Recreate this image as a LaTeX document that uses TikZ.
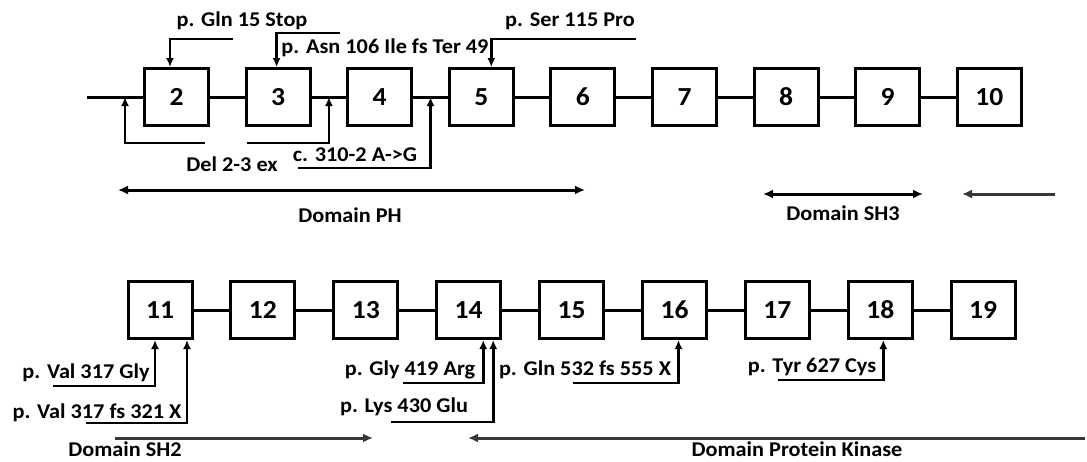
\documentclass[tikz,border=0pt]{standalone}
\usepackage{fontspec}
\setmainfont{Carlito}[FakeStretch=1.06]
\usetikzlibrary{arrows.meta,calc}

\begin{document}
\begin{tikzpicture}[x=1pt, y=-1pt, node distance=101.6pt,
    exon/.style={draw, line width=3pt, minimum width=64pt, minimum height=57pt, text height=16.5pt, text depth=0pt, font=\bfseries\fontsize{26}{28}\selectfont},
    link/.style={line width=3pt},
    mut/.style={line width=2.7pt, -{Latex[length=9pt,width=8pt]}},
    lbl/.style={font=\bfseries\fontsize{21}{23}\selectfont, inner sep=0pt},
    dom/.style={line width=3pt, {Latex[length=10pt,width=9pt]}-{Latex[length=10pt,width=9pt]}},
    domgray/.style={line width=3pt, draw=black!78, -{Latex[length=10pt,width=9pt]}}]
    \useasboundingbox (0,0) rectangle (1087,461);

    % exons 2 to 10
    \node[exon] (e2) at (176.5,97) {2};
    \node[exon, right of=e2] (e3) {3};
    \node[exon, right of=e3] (e4) {4};
    \node[exon, right of=e4] (e5) {5};
    \node[exon, right of=e5] (e6) {6};
    \node[exon, right of=e6] (e7) {7};
    \node[exon, right of=e7] (e8) {8};
    \node[exon, right of=e8] (e9) {9};
    \node[exon, right of=e9] (e10) {10};
    \coordinate (start) at (87,97);
    \draw[link] (start) -- (e2);
    \draw[link] (e2) -- (e3);
    \draw[link] (e3) -- (e4);
    \draw[link] (e4) -- (e5);
    \draw[link] (e5) -- (e6);
    \draw[link] (e6) -- (e7);
    \draw[link] (e7) -- (e8);
    \draw[link] (e8) -- (e9);
    \draw[link] (e9) -- (e10);

    % mutations above
    \node[lbl] (gln15) at (242,21) {p. Gln 15 Stop};
    \node[lbl] (asn106) at (385,48) {p. Asn 106 Ile fs Ter 49};
    \node[lbl] (ser115) at (570,21) {p. Ser 115 Pro};
    \coordinate (gln15_end) at (233,39);
    \coordinate (asn106_end) at (340,33);
    \coordinate (ser115_end) at (636,39);
    \draw[mut] (gln15_end) -| ([xshift=-6.5pt]e2.north);
    \draw[mut] (asn106_end) -| ([xshift=-1.5pt]e3.north);
    \draw[mut] (ser115_end) -| ([xshift=10pt]e5.north);

    % mutations below
    \node[lbl] (del) at (232,164) {Del 2-3 ex};
    \node[lbl] (c310) at (355,155) {c. 310-2 A->G};
    \coordinate (cut1) at (125,97);
    \coordinate (del_a) at (205,143);
    \coordinate (del_b) at (247,143);
    \coordinate (c310_end) at (298,168);
    \draw[mut] (del_a) -| (cut1);
    \draw[mut] (del_b) -| ($(e3.east)!0.5!(e4.west)$);
    \draw[mut] (c310_end) -| ($(e4.east)!0.5!(e5.west)$);

    % domains, first row
    \node[lbl] (ph) at (350,215) {Domain PH};
    \node[lbl] (sh3) at (843,213) {Domain SH3};
    \coordinate (ph_l) at (118,190);
    \coordinate (ph_r) at (585,190);
    \coordinate (sh3_l) at (763,194);
    \coordinate (sh3_r) at (923,194);
    \coordinate (kin_a) at (1055,194);
    \coordinate (kin_b) at (962,194);
    \draw[dom] (ph_l) -- (ph_r);
    \draw[dom] (sh3_l) -- (sh3_r);
    \draw[domgray] (kin_a) -- (kin_b);

    % exons 11 to 19
    \begin{scope}[node distance=102.9pt]
    \node[exon] (e11) at (160,310) {11};
    \node[exon, right of=e11] (e12) {12};
    \node[exon, right of=e12] (e13) {13};
    \node[exon, right of=e13] (e14) {14};
    \node[exon, right of=e14] (e15) {15};
    \node[exon, right of=e15] (e16) {16};
    \node[exon, right of=e16] (e17) {17};
    \node[exon, right of=e17] (e18) {18};
    \node[exon, right of=e18] (e19) {19};
    \end{scope}
    \draw[link] (e11) -- (e12);
    \draw[link] (e12) -- (e13);
    \draw[link] (e13) -- (e14);
    \draw[link] (e14) -- (e15);
    \draw[link] (e15) -- (e16);
    \draw[link] (e16) -- (e17);
    \draw[link] (e17) -- (e18);
    \draw[link] (e18) -- (e19);

    % mutations, second row
    \node[lbl] (val317) at (86,373) {p. Val 317 Gly};
    \node[lbl] (val317fs) at (97,413) {p. Val 317 fs 321 X};
    \node[lbl] (gly419) at (410,370) {p. Gly 419 Arg};
    \node[lbl] (lys430) at (404,407) {p. Lys 430 Glu};
    \node[lbl] (gln532) at (585,370) {p. Gln 532 fs 555 X};
    \node[lbl] (tyr627) at (812,367) {p. Tyr 627 Cys};
    \coordinate (val317_end) at (53,386);
    \coordinate (val317fs_end) at (86,423);
    \coordinate (gly419_end) at (403,383);
    \coordinate (lys430_end) at (391,422);
    \coordinate (gln532_end) at (573,383);
    \coordinate (tyr627_end) at (778,380);
    \draw[mut] (val317_end) -| ([xshift=-5pt]e11.south);
    \draw[mut] (val317fs_end) -| ([xshift=27pt]e11.south);
    \draw[mut] (gly419_end) -| ([xshift=14.5pt]e14.south);
    \draw[mut] (lys430_end) -| ([xshift=24.5pt]e14.south);
    \draw[mut] (gln532_end) -| ([xshift=4pt]e16.south);
    \draw[mut] (tyr627_end) -| ([xshift=3pt]e18.south);

    % domains, second row
    \node[lbl] (sh2) at (125,449) {Domain SH2};
    \node[lbl] (kinase) at (797,449) {Domain Protein Kinase};
    \coordinate (sh2_a) at (115,438);
    \coordinate (sh2_b) at (373,438);
    \coordinate (pk_a) at (1085,438);
    \coordinate (pk_b) at (468,438);
    \draw[domgray] (sh2_a) -- (sh2_b);
    \draw[domgray] (pk_a) -- (pk_b);
\end{tikzpicture}
\end{document}
